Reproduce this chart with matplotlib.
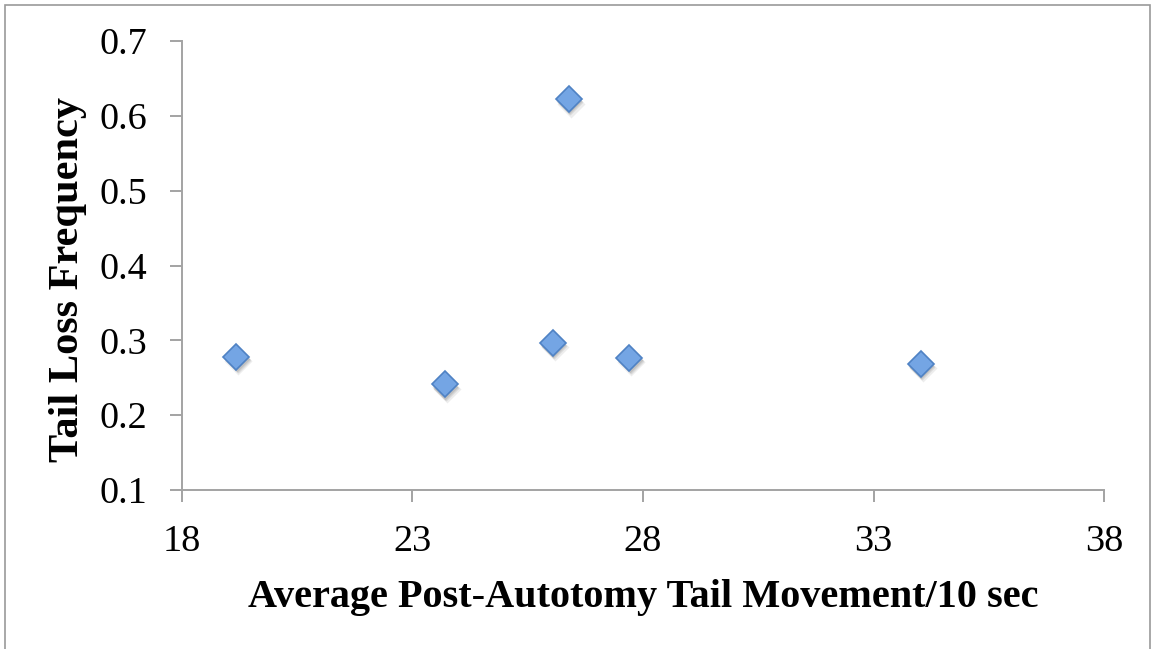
import matplotlib
matplotlib.use("Agg")
import matplotlib.pyplot as plt
import matplotlib.transforms as mtransforms
from matplotlib.patches import Rectangle

# Tail movement vs. tail loss frequency
movement = [19.18, 23.70, 26.04, 26.39, 27.70, 34.02]
tail_loss = [0.278, 0.241, 0.296, 0.622, 0.276, 0.269]

x_ticks = [18, 23, 28, 33, 38]
y_ticks = [0.1, 0.2, 0.3, 0.4, 0.5, 0.6, 0.7]

x_label = "Average Post-Autotomy Tail Movement/10 sec"
y_label = "Tail Loss Frequency"

plt.rcParams["font.family"] = ["Liberation Serif", "DejaVu Serif"]

W, H, DPI = 1153, 649, 100
fig = plt.figure(figsize=(W / DPI, H / DPI), dpi=DPI)

# outer frame of the chart area
fig.patches.append(Rectangle((5 / W, -0.01), (W - 8) / W, 1 - 5 / H + 0.01,
                             transform=fig.transFigure, fill=False,
                             edgecolor="#9a9a9a", linewidth=1.2))

ax = fig.add_axes([181.7 / W, 1 - 490 / H, (1104.3 - 181.7) / W, (490 - 41) / H])
ax.set_xlim(18, 38)
ax.set_ylim(0.1, 0.7)
ax.set_xticks(x_ticks)
ax.set_yticks(y_ticks)
ax.set_xticklabels([str(v) for v in x_ticks])
ax.set_yticklabels([f"{v:.1f}" for v in y_ticks])

axis_grey = "#a3a3a3"
for side in ("top", "right"):
    ax.spines[side].set_visible(False)
for side in ("left", "bottom"):
    ax.spines[side].set_color(axis_grey)
    ax.spines[side].set_linewidth(1.4)
ax.tick_params(axis="both", direction="out", length=8.5, width=1.4,
               color=axis_grey, labelsize=27.5, labelcolor="black")
ax.tick_params(axis="x", pad=16)
ax.tick_params(axis="y", pad=16)

# soft drop shadow under the markers
for i, (dx, dy, a) in enumerate([(1.5, -3.0, 0.07), (1.0, -2.2, 0.09), (0.5, -1.5, 0.10)]):
    tr = mtransforms.offset_copy(ax.transData, fig=fig, x=dx, y=dy, units="points")
    ax.plot(movement, tail_loss, linestyle="none", marker="D", markersize=14 - i * 0.5,
            markerfacecolor="black", markeredgecolor="none", alpha=a,
            transform=tr, clip_on=False, zorder=2)

ax.plot(movement, tail_loss, linestyle="none", marker="D", markersize=13,
        markerfacecolor="#74a5e4", markeredgecolor="#4f82c4", markeredgewidth=1.2,
        clip_on=False, zorder=3)

fig.text(643 / W, 1 - 597 / H, x_label, ha="center", va="center",
         fontsize=29, fontweight="bold")
fig.text(68 / W, 1 - 280 / H, y_label, ha="center", va="center",
         rotation=90, fontsize=30.5, fontweight="bold")

fig.savefig("out.png", dpi=DPI)
